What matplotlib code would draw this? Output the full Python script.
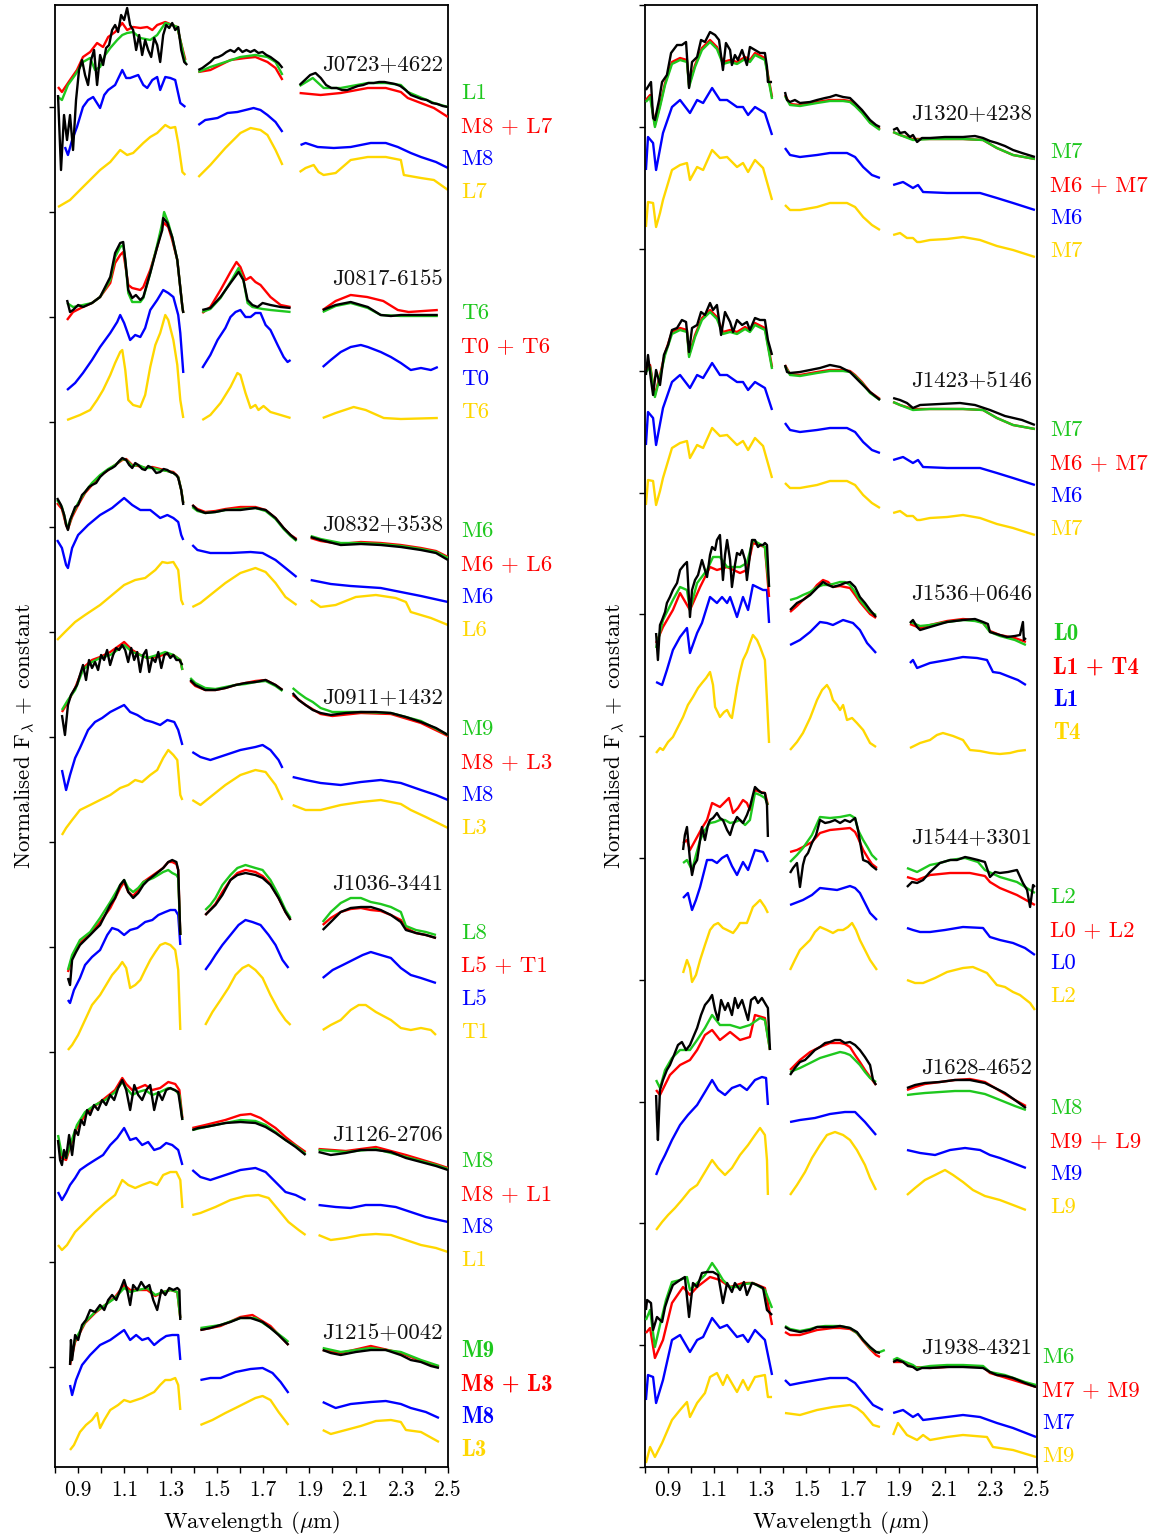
import numpy as np
import matplotlib
matplotlib.use("Agg")
import matplotlib.pyplot as plt
from matplotlib.transforms import blended_transform_factory

plt.rcParams.update({
    "font.family": "cmr10",
    "mathtext.fontset": "cm",
    "axes.formatter.use_mathtext": True,
    "axes.unicode_minus": False,
})

# Spectra: each object has a single-template fit (GRN), a binary fit (RED),
# the primary (BLU) and secondary (YEL) templates and the observed spectrum (OBS).
# Every entry holds the J, H and K segments. A segment is either a flat list of
# (wavelength [um], flux) pairs or a tuple (lambda_min, lambda_max, evenly sampled fluxes).
# Fluxes are normalised units x100.

# ---------------- J0723+4622 : L1 / M8 + L7 ----------------
J0723_GRN = [[0.813,13, 0.830,10, 0.856,25, 0.887,35, 0.921,48, 0.952,52, 0.973,40, 0.995,43, 1.017,55, 1.039,62, 1.069,70, 1.091,75, 1.112,77, 1.138,78, 1.169,72, 1.212,70, 1.242,75, 1.277,87, 1.307,85, 1.329,83, 1.342,70, 1.364,47],
             [1.42,38, 1.472,43, 1.537,48, 1.602,53, 1.667,55, 1.719,53, 1.754,48, 1.784,35],
             [1.858,24, 1.915,32, 1.962,22, 2.036,22, 2.153,27, 2.231,27, 2.296,25, 2.326,18, 2.439,7, 2.5,3]]
J0723_RED = [[0.813,23, 0.830,18, 0.865,30, 0.895,40, 0.921,53, 0.952,58, 0.982,67, 1.008,63, 1.030,73, 1.060,78, 1.091,87, 1.112,80, 1.138,83, 1.169,82, 1.199,83, 1.221,80, 1.242,85, 1.277,88, 1.307,85, 1.329,83, 1.342,70, 1.364,50],
             [1.42,38, 1.472,40, 1.559,50, 1.624,52, 1.667,53, 1.719,48, 1.754,42, 1.784,30],
             [1.858,17, 1.949,15, 2.036,17, 2.153,22, 2.231,22, 2.296,18, 2.326,12, 2.439,2, 2.5,-7]]
J0723_BLU = [[0.843,23, 0.856,15, 0.874,30, 0.895,43, 0.921,63, 0.943,70, 0.965,73, 0.995,62, 1.013,75, 1.030,80, 1.060,85, 1.091,100, 1.108,92, 1.125,92, 1.160,95, 1.182,85, 1.199,82, 1.221,90, 1.242,93, 1.255,80, 1.277,93, 1.299,92, 1.320,90, 1.342,67, 1.364,63],
             [1.42,45, 1.45,50, 1.503,52, 1.546,57, 1.589,58, 1.624,60, 1.659,62, 1.689,60, 1.719,55, 1.754,48, 1.784,38],
             [1.862,25, 1.884,27, 1.936,23, 2.006,22, 2.079,23, 2.166,27, 2.231,27, 2.283,23, 2.339,17, 2.383,13, 2.448,8, 2.5,2]]
J0723_YEL = [[0.813,3, 0.865,10, 0.921,23, 0.995,40, 1.039,48, 1.082,60, 1.112,55, 1.138,57, 1.182,67, 1.212,73, 1.242,77, 1.277,85, 1.299,82, 1.320,83, 1.333,67, 1.351,38, 1.364,35],
             [1.42,33, 1.472,45, 1.537,62, 1.602,77, 1.646,82, 1.689,80, 1.719,75, 1.754,60, 1.784,45],
             [1.858,38, 1.884,42, 1.919,45, 1.940,38, 1.962,35, 2.014,37, 2.079,50, 2.153,53, 2.231,53, 2.296,50, 2.309,35, 2.383,32, 2.439,30, 2.5,20]]
J0723_OBS = [(0.813, 1.372, [15,-60,-5,-30,-5,-40,10,40,50,35,25,50,60,25,55,45,62,65,80,85,78,95,90,102,85,80,60,75,55,70,60,53,72,65,48,75,85,82,87,80,83,60,48,45]),
             (1.42, 1.784, [40,42,45,48,52,53,55,58,60,58,62,58,60,58,60,57,58,55,53,50,47,42]),
             (1.858, 2.5, [25,30,35,37,32,25,22,22,20,20,22,24,25,27,27,28,28,27,26,24,20,15,13,11,10,7,6,4,3])]

# ---------------- J0817-6155 : T6 / T0 + T6 ----------------
J0817_GRN = [[0.852,12, 0.878,8, 0.921,10, 0.960,12, 0.995,18, 1.039,35, 1.060,58, 1.082,68, 1.095,70, 1.104,55, 1.117,22, 1.134,13, 1.169,13, 1.182,17, 1.212,42, 1.242,70, 1.264,92, 1.272,103, 1.290,92, 1.307,78, 1.329,55, 1.351,8, 1.355,2],
             [1.437,3, 1.472,6, 1.516,17, 1.559,33, 1.594,47, 1.615,35, 1.633,12, 1.654,8, 1.676,7, 1.698,6, 1.732,5, 1.776,4, 1.819,3],
             [1.958,3, 2.014,9, 2.079,12, 2.153,7, 2.209,0, 2.296,-1, 2.456,-1]]
J0817_RED = [[0.852,-5, 0.878,3, 0.921,8, 0.960,12, 0.995,18, 1.039,32, 1.060,52, 1.082,60, 1.095,63, 1.104,50, 1.117,30, 1.134,27, 1.169,25, 1.182,28, 1.212,45, 1.242,68, 1.264,88, 1.272,92, 1.290,88, 1.307,75, 1.329,55, 1.351,8, 1.355,2],
             [1.437,2, 1.472,8, 1.516,25, 1.559,43, 1.585,53, 1.602,48, 1.624,35, 1.646,38, 1.667,33, 1.689,30, 1.732,18, 1.776,10, 1.819,8],
             [1.958,5, 2.014,14, 2.079,20, 2.150,18, 2.220,14, 2.283,5, 2.330,3, 2.456,5]]
J0817_BLU = [[0.852,5, 0.887,12, 0.921,22, 0.960,35, 0.995,48, 1.039,62, 1.069,73, 1.082,80, 1.099,72, 1.125,55, 1.147,60, 1.169,58, 1.190,67, 1.212,85, 1.242,95, 1.268,105, 1.290,102, 1.312,98, 1.333,80, 1.342,62, 1.355,22],
             [1.437,27, 1.472,40, 1.503,55, 1.537,67, 1.559,78, 1.581,83, 1.602,85, 1.624,78, 1.646,78, 1.667,82, 1.689,82, 1.711,70, 1.732,65, 1.763,50, 1.789,38, 1.806,33, 1.819,35],
             [1.958,28, 1.993,35, 2.036,43, 2.079,48, 2.123,50, 2.153,48, 2.209,43, 2.253,38, 2.296,32, 2.339,25, 2.383,27, 2.426,25, 2.456,28]]
J0817_YEL = [[0.852,0, 0.908,5, 0.952,10, 0.982,20, 1.008,30, 1.039,45, 1.060,57, 1.082,68, 1.091,70, 1.104,50, 1.117,20, 1.138,15, 1.169,13, 1.190,25, 1.212,53, 1.234,75, 1.255,87, 1.277,105, 1.290,100, 1.312,80, 1.329,55, 1.342,20, 1.355,2],
             [1.437,0, 1.472,5, 1.516,17, 1.559,33, 1.589,47, 1.602,45, 1.624,27, 1.646,12, 1.667,15, 1.680,10, 1.702,14, 1.732,8, 1.776,5, 1.819,2],
             [1.958,2, 2.014,7, 2.092,13, 2.144,10, 2.222,2, 2.296,1, 2.456,2]]
J0817_OBS = [[0.852,15, 0.865,3, 0.878,5, 0.900,10, 0.921,8, 0.960,12, 0.995,18, 1.039,38, 1.060,62, 1.082,72, 1.095,73, 1.104,55, 1.117,25, 1.134,17, 1.150,20, 1.169,15, 1.182,18, 1.212,42, 1.242,68, 1.264,85, 1.268,97, 1.286,92, 1.307,78, 1.329,55, 1.351,8, 1.355,2],
             [1.437,5, 1.472,7, 1.516,18, 1.559,32, 1.594,43, 1.615,35, 1.633,15, 1.654,10, 1.676,8, 1.698,12, 1.732,10, 1.776,8, 1.819,7],
             [1.958,5, 2.014,10, 2.079,13, 2.153,8, 2.209,0, 2.253,-1, 2.296,0, 2.456,0]]

# ---------------- J0832+3538 : M6 / M6 + L6 ----------------
J0832_GRN = [[0.809,45, 0.830,38, 0.848,22, 0.856,17, 0.874,30, 0.900,42, 0.930,53, 0.960,62, 0.995,70, 1.030,76, 1.060,80, 1.091,86, 1.108,85, 1.134,79, 1.160,80, 1.190,77, 1.221,77, 1.255,75, 1.286,74, 1.312,72, 1.333,68, 1.346,55, 1.355,42],
             [1.394,38, 1.416,34, 1.450,32, 1.494,33, 1.537,35, 1.602,36, 1.667,37, 1.711,34, 1.754,26, 1.789,16, 1.819,9, 1.845,4],
             [1.906,9, 1.949,6, 2.036,2, 2.123,2, 2.209,1, 2.296,-1, 2.383,-4, 2.448,-7, 2.5,-13]]
J0832_RED = [[0.809,42, 0.830,36, 0.848,20, 0.856,16, 0.874,28, 0.900,40, 0.930,52, 0.960,60, 0.995,69, 1.030,75, 1.060,80, 1.091,85, 1.108,86, 1.134,80, 1.160,79, 1.190,77, 1.221,78, 1.255,76, 1.286,74, 1.312,73, 1.333,68, 1.346,55, 1.355,42],
             [1.394,40, 1.416,36, 1.450,33, 1.494,34, 1.537,36, 1.602,38, 1.667,38, 1.711,35, 1.754,27, 1.789,17, 1.819,10, 1.845,6],
             [1.906,7, 1.949,4, 2.036,1, 2.123,3, 2.209,2, 2.296,0, 2.383,-3, 2.448,-6, 2.5,-12]]
J0832_BLU = [[0.809,60, 0.830,52, 0.848,35, 0.856,32, 0.874,52, 0.900,65, 0.943,75, 0.995,85, 1.047,92, 1.099,102, 1.134,95, 1.169,90, 1.212,90, 1.255,82, 1.286,85, 1.312,82, 1.333,78, 1.346,65, 1.355,60],
             [1.394,55, 1.416,50, 1.472,47, 1.559,47, 1.646,48, 1.698,47, 1.754,40, 1.797,32, 1.845,23],
             [1.906,20, 1.993,16, 2.079,14, 2.209,12, 2.296,8, 2.383,4, 2.5,-2]]
J0832_YEL = [[0.809,0, 0.843,8, 0.887,18, 0.930,25, 0.995,35, 1.047,45, 1.099,55, 1.147,60, 1.190,62, 1.234,70, 1.264,78, 1.286,77, 1.312,78, 1.333,70, 1.346,40, 1.355,35],
             [1.394,33, 1.429,37, 1.472,45, 1.537,57, 1.602,67, 1.667,72, 1.711,68, 1.754,57, 1.797,43, 1.845,35],
             [1.906,40, 1.949,33, 2.014,35, 2.101,43, 2.188,45, 2.274,42, 2.318,38, 2.339,28, 2.426,22, 2.5,15]]
J0832_OBS = [[0.809,47, 0.826,40, 0.840,30, 0.848,20, 0.856,15, 0.865,25, 0.874,30, 0.887,38, 0.900,40, 0.917,50, 0.930,53, 0.947,58, 0.960,60, 0.978,62, 0.995,68, 1.013,72, 1.030,75, 1.047,77, 1.060,79, 1.078,84, 1.091,87, 1.108,85, 1.121,80, 1.134,77, 1.147,82, 1.160,80, 1.177,76, 1.190,75, 1.203,79, 1.221,77, 1.238,72, 1.255,73, 1.270,76, 1.286,75, 1.299,73, 1.312,72, 1.325,70, 1.333,67, 1.346,55, 1.355,40],
             [1.394,40, 1.416,35, 1.450,32, 1.494,33, 1.537,35, 1.602,35, 1.667,37, 1.711,35, 1.754,27, 1.789,17, 1.819,10, 1.845,5],
             [1.906,8, 1.949,5, 2.036,0, 2.123,1, 2.209,0, 2.296,-2, 2.383,-5, 2.448,-8, 2.5,-15]]

# ---------------- J0911+1432 : M9 / M8 + L3 ----------------
J0911_GRN = [[0.830,-20, 0.856,-10, 0.887,0, 0.921,20, 0.960,28, 0.995,32, 1.039,35, 1.082,42, 1.099,45, 1.134,38, 1.169,35, 1.199,32, 1.242,35, 1.277,38, 1.312,35, 1.342,30, 1.351,20],
             [1.385,12, 1.407,7, 1.450,2, 1.494,1, 1.537,3, 1.581,5, 1.624,6, 1.667,8, 1.711,9, 1.754,4, 1.784,-1],
             [1.828,2, 1.854,-3, 1.884,-8, 1.915,-12, 1.949,-18, 2.0,-22, 2.058,-22, 2.123,-22, 2.253,-23, 2.383,-31, 2.5,-45]]
J0911_RED = [[0.830,-22, 0.856,-12, 0.887,2, 0.921,22, 0.960,30, 0.995,33, 1.039,38, 1.082,45, 1.099,48, 1.134,40, 1.169,35, 1.199,32, 1.242,33, 1.277,36, 1.312,35, 1.342,30, 1.351,20],
             [1.385,9, 1.407,4, 1.450,0, 1.494,0, 1.537,2, 1.581,5, 1.624,7, 1.667,9, 1.711,10, 1.754,5, 1.784,0],
             [1.828,-5, 1.884,-15, 1.949,-24, 2.0,-26, 2.123,-23, 2.253,-24, 2.383,-33, 2.5,-46]]
J0911_BLU = [[0.830,20, 0.848,0, 0.865,15, 0.887,32, 0.908,42, 0.943,60, 0.973,68, 1.004,72, 1.039,78, 1.073,82, 1.099,85, 1.125,78, 1.156,75, 1.190,70, 1.221,68, 1.255,65, 1.286,70, 1.316,68, 1.333,60, 1.351,45],
             [1.394,38, 1.429,33, 1.472,30, 1.537,35, 1.602,40, 1.667,43, 1.698,45, 1.732,40, 1.767,30, 1.784,22],
             [1.828,13, 1.884,10, 1.949,7, 2.036,5, 2.123,8, 2.209,10, 2.296,7, 2.383,0, 2.448,-5, 2.5,-10]]
J0911_YEL = [[0.830,-5, 0.848,2, 0.874,10, 0.908,20, 0.952,25, 0.995,30, 1.039,35, 1.082,42, 1.117,45, 1.147,50, 1.177,48, 1.212,55, 1.242,60, 1.268,72, 1.290,80, 1.312,75, 1.329,70, 1.342,35, 1.351,30],
             [1.394,30, 1.429,25, 1.472,33, 1.537,45, 1.602,55, 1.667,60, 1.711,58, 1.754,45, 1.784,30],
             [1.828,25, 1.884,20, 1.949,20, 2.036,25, 2.123,28, 2.209,30, 2.296,26, 2.339,20, 2.404,13, 2.5,2]]
J0911_OBS = [(0.830, 1.351, [-25,-45,-15,-5,0,5,15,25,10,30,22,28,20,35,30,40,25,35,42,40,45,40,28,42,30,38,18,35,40,18,32,28,38,22,35,37,32,35,30,30,25]),
             [1.385,10, 1.407,5, 1.450,0, 1.494,0, 1.537,2, 1.581,5, 1.624,7, 1.667,8, 1.711,10, 1.754,5, 1.784,0],
             [1.828,-3, 1.854,-10, 1.884,-15, 1.915,-20, 1.949,-23, 1.993,-25, 2.058,-23, 2.123,-22, 2.188,-22, 2.253,-23, 2.318,-27, 2.383,-32, 2.448,-38, 2.5,-45]]

# ---------------- J1036-3441 : L8 / L5 + T1 ----------------
J1036_GRN = [[0.856,-30, 0.874,-15, 0.908,0, 0.952,8, 0.995,22, 1.039,38, 1.082,55, 1.099,60, 1.117,52, 1.138,48, 1.160,52, 1.182,58, 1.225,62, 1.268,68, 1.290,70, 1.307,67, 1.325,65, 1.333,62, 1.342,5],
             [1.45,30, 1.472,35, 1.494,42, 1.524,55, 1.559,65, 1.589,72, 1.624,75, 1.667,72, 1.698,70, 1.732,60, 1.767,45, 1.797,30, 1.819,22],
             [1.958,18, 1.993,28, 2.036,37, 2.079,42, 2.123,42, 2.166,38, 2.209,36, 2.253,33, 2.296,28, 2.318,14, 2.361,10, 2.404,8, 2.448,5]]
J1036_RED = [[0.856,-32, 0.874,-18, 0.908,-3, 0.952,6, 0.995,18, 1.039,32, 1.082,52, 1.099,58, 1.117,48, 1.138,44, 1.160,50, 1.182,58, 1.225,65, 1.268,72, 1.290,78, 1.307,78, 1.325,76, 1.333,70, 1.342,5],
             [1.45,25, 1.494,36, 1.524,48, 1.559,60, 1.589,67, 1.624,70, 1.667,68, 1.698,64, 1.732,56, 1.767,42, 1.797,28, 1.819,20],
             [1.958,15, 1.993,22, 2.036,28, 2.079,31, 2.123,32, 2.166,30, 2.209,29, 2.253,25, 2.296,20, 2.318,12, 2.361,7, 2.404,5, 2.448,2]]
J1036_BLU = [[0.856,-20, 0.865,-23, 0.882,-10, 0.908,2, 0.930,15, 0.960,23, 0.995,30, 1.026,45, 1.047,52, 1.073,50, 1.099,45, 1.125,50, 1.156,52, 1.190,58, 1.221,60, 1.247,65, 1.277,68, 1.299,70, 1.320,70, 1.333,65, 1.342,35],
             [1.45,10, 1.472,17, 1.494,25, 1.524,35, 1.559,45, 1.594,55, 1.624,60, 1.654,58, 1.689,55, 1.724,45, 1.754,35, 1.784,20, 1.810,12],
             [1.958,2, 2.001,10, 2.045,15, 2.088,20, 2.131,25, 2.166,28, 2.209,25, 2.253,22, 2.296,12, 2.339,5, 2.383,2, 2.448,-3]]
J1036_YEL = [[0.856,-10, 0.874,-5, 0.900,5, 0.930,20, 0.960,35, 0.995,45, 1.021,55, 1.047,65, 1.073,72, 1.091,78, 1.108,72, 1.125,52, 1.147,55, 1.169,60, 1.190,70, 1.212,80, 1.234,88, 1.255,95, 1.277,97, 1.299,95, 1.320,90, 1.333,70, 1.342,10],
             [1.45,15, 1.481,28, 1.516,40, 1.55,52, 1.581,65, 1.611,72, 1.637,75, 1.667,70, 1.698,62, 1.732,45, 1.767,30, 1.797,20, 1.819,15],
             [1.958,10, 1.993,15, 2.036,20, 2.079,30, 2.114,35, 2.144,35, 2.188,28, 2.253,20, 2.296,12, 2.339,10, 2.383,12, 2.426,10, 2.448,5]]
J1036_OBS = [[0.856,-38, 0.865,-45, 0.874,-20, 0.891,-12, 0.908,-5, 0.930,0, 0.952,5, 0.973,10, 0.995,15, 1.017,25, 1.039,35, 1.060,42, 1.082,55, 1.099,60, 1.117,48, 1.138,42, 1.160,47, 1.182,55, 1.203,60, 1.225,64, 1.247,68, 1.268,72, 1.290,78, 1.307,80, 1.325,78, 1.333,70, 1.342,5],
             [1.45,25, 1.472,30, 1.494,35, 1.524,45, 1.559,60, 1.589,65, 1.624,67, 1.667,65, 1.698,62, 1.732,55, 1.767,42, 1.797,28, 1.819,20],
             [1.958,10, 1.993,18, 2.036,28, 2.079,32, 2.123,33, 2.166,33, 2.209,30, 2.253,25, 2.296,18, 2.318,10, 2.361,7, 2.404,5, 2.448,2]]

# ---------------- J1126-2706 : M8 / M8 + L1 ----------------
J1126_GRN = [[0.813,15, 0.830,-5, 0.848,-8, 0.865,5, 0.895,25, 0.930,38, 0.973,45, 1.017,50, 1.060,58, 1.091,68, 1.108,62, 1.134,55, 1.160,58, 1.190,60, 1.221,55, 1.255,58, 1.290,62, 1.320,60, 1.338,55, 1.351,30],
             [1.394,20, 1.45,23, 1.537,27, 1.602,30, 1.667,29, 1.711,25, 1.754,18, 1.797,10, 1.841,4, 1.884,-4],
             [1.94,0, 2.058,-2, 2.188,1, 2.318,-7, 2.448,-15, 2.5,-19]]
J1126_RED = [[0.813,10, 0.830,-8, 0.848,-10, 0.865,3, 0.895,22, 0.930,35, 0.973,44, 1.017,52, 1.060,60, 1.091,72, 1.108,66, 1.134,60, 1.160,62, 1.190,65, 1.221,60, 1.255,62, 1.290,68, 1.320,66, 1.338,60, 1.351,32],
             [1.394,22, 1.45,25, 1.537,30, 1.602,35, 1.646,36, 1.689,32, 1.754,22, 1.797,13, 1.841,5, 1.884,-2],
             [1.94,1, 2.058,-1, 2.188,3, 2.318,-5, 2.448,-14, 2.5,-18]]
J1126_BLU = [[0.813,18, 0.830,10, 0.848,17, 0.865,25, 0.887,32, 0.908,40, 0.939,45, 0.973,50, 1.008,55, 1.039,65, 1.069,72, 1.099,82, 1.125,70, 1.151,72, 1.177,65, 1.203,68, 1.229,60, 1.255,62, 1.281,67, 1.307,65, 1.333,60, 1.351,45],
             [1.394,40, 1.429,33, 1.472,30, 1.537,35, 1.602,40, 1.667,42, 1.711,38, 1.754,28, 1.797,18, 1.841,15, 1.884,10],
             [1.94,5, 2.014,3, 2.079,2, 2.144,5, 2.209,5, 2.274,3, 2.339,-2, 2.404,-7, 2.5,-12]]
J1126_YEL = [[0.813,10, 0.830,5, 0.852,10, 0.887,23, 0.930,33, 0.973,43, 1.017,52, 1.06,60, 1.091,75, 1.117,70, 1.147,67, 1.177,70, 1.212,73, 1.242,70, 1.268,80, 1.299,83, 1.325,83, 1.342,75, 1.351,47],
             [1.394,40, 1.429,42, 1.494,48, 1.559,55, 1.624,59, 1.68,60, 1.724,57, 1.767,45, 1.81,33, 1.854,25, 1.884,20],
             [1.94,20, 1.993,15, 2.058,17, 2.123,20, 2.188,21, 2.253,20, 2.318,15, 2.383,10, 2.448,7, 2.5,3]]
J1126_OBS = [[0.813,10, 0.822,-10, 0.830,-15, 0.839,0, 0.848,-8, 0.861,15, 0.874,-5, 0.887,20, 0.900,15, 0.913,30, 0.926,25, 0.939,40, 0.952,35, 0.969,45, 0.986,40, 1.004,50, 1.021,45, 1.039,55, 1.056,50, 1.073,62, 1.091,70, 1.108,60, 1.125,40, 1.143,65, 1.160,55, 1.177,50, 1.195,60, 1.212,65, 1.229,40, 1.247,58, 1.264,50, 1.281,60, 1.299,62, 1.316,60, 1.333,58, 1.351,30],
             [1.394,20, 1.42,22, 1.45,23, 1.494,25, 1.537,27, 1.602,28, 1.667,27, 1.711,23, 1.754,17, 1.797,10, 1.841,3, 1.884,-5],
             [1.94,-2, 1.993,-5, 2.058,-3, 2.123,0, 2.188,0, 2.253,-2, 2.318,-8, 2.383,-12, 2.448,-16, 2.5,-20]]

# ---------------- J1215+0042 : M9 / M8 + L3 ----------------
J1215_GRN = [[0.865,-2, 0.887,20, 0.93,38, 0.973,48, 1.017,55, 1.06,62, 1.099,72, 1.125,68, 1.16,70, 1.199,72, 1.234,65, 1.268,68, 1.30,70, 1.329,68, 1.342,42],
             [1.429,32, 1.516,35, 1.602,42, 1.667,42, 1.732,32, 1.789,22, 1.81,18],
             [1.958,12, 2.036,8, 2.166,12, 2.296,8, 2.383,0, 2.461,-6]]
J1215_RED = [[0.865,-5, 0.887,18, 0.93,37, 0.973,47, 1.017,55, 1.06,63, 1.099,75, 1.125,70, 1.16,70, 1.199,70, 1.234,64, 1.268,68, 1.30,70, 1.329,68, 1.342,42],
             [1.429,30, 1.516,34, 1.602,43, 1.654,45, 1.732,34, 1.789,20, 1.81,15],
             [1.958,10, 2.036,7, 2.166,14, 2.296,7, 2.383,-1, 2.461,-7]]
J1215_BLU = [[0.865,15, 0.874,5, 0.891,20, 0.917,35, 0.952,45, 0.995,55, 1.039,60, 1.069,65, 1.099,70, 1.125,60, 1.151,65, 1.177,60, 1.203,62, 1.229,55, 1.255,60, 1.281,64, 1.307,65, 1.333,65, 1.342,40],
             [1.429,20, 1.472,22, 1.516,22, 1.581,28, 1.646,31, 1.698,32, 1.741,27, 1.776,18, 1.81,7],
             [1.958,-2, 2.014,-8, 2.079,-4, 2.166,-2, 2.231,-1, 2.296,-4, 2.339,-8, 2.404,-12, 2.461,-18]]
J1215_YEL = [[0.865,-10, 0.882,-5, 0.908,8, 0.934,15, 0.960,20, 0.982,27, 0.995,12, 1.013,20, 1.039,30, 1.073,35, 1.099,40, 1.125,38, 1.151,40, 1.177,42, 1.203,45, 1.229,48, 1.255,55, 1.277,60, 1.299,60, 1.320,62, 1.333,55, 1.342,30],
             [1.429,15, 1.481,20, 1.537,27, 1.581,32, 1.624,37, 1.667,42, 1.698,44, 1.732,40, 1.767,28, 1.81,15],
             [1.958,10, 1.993,6, 2.058,10, 2.123,14, 2.188,19, 2.253,20, 2.296,18, 2.318,10, 2.383,8, 2.461,-2]]
J1215_OBS = [[0.865,-5, 0.869,20, 0.874,0, 0.887,25, 0.900,20, 0.917,35, 0.934,40, 0.952,50, 0.973,48, 0.995,55, 1.013,50, 1.030,60, 1.047,65, 1.065,60, 1.082,70, 1.099,80, 1.112,70, 1.125,55, 1.138,75, 1.156,70, 1.173,78, 1.190,72, 1.208,75, 1.225,60, 1.242,50, 1.260,70, 1.277,65, 1.294,72, 1.312,70, 1.329,72, 1.338,70, 1.342,40],
             [1.429,30, 1.472,32, 1.516,35, 1.559,38, 1.602,42, 1.646,42, 1.698,38, 1.732,32, 1.767,25, 1.789,20, 1.81,15],
             [1.958,10, 1.993,7, 2.036,5, 2.101,8, 2.166,10, 2.231,10, 2.296,5, 2.339,0, 2.383,-2, 2.426,-6, 2.461,-8]]

# ---------------- J1320+4238 : M7 / M6 + M7 ----------------
J1320_GRN = [[0.804,28, 0.822,33, 0.843,3, 0.865,23, 0.887,45, 0.917,66, 0.952,70, 0.982,68, 0.991,43, 1.017,63, 1.047,80, 1.082,88, 1.112,81, 1.138,66, 1.169,68, 1.199,66, 1.234,71, 1.255,68, 1.277,75, 1.320,70, 1.351,31],
             [1.407,34, 1.429,25, 1.472,24, 1.546,27, 1.602,29, 1.659,29, 1.689,28, 1.711,24, 1.741,17, 1.776,7, 1.819,0],
             [1.876,-2, 1.906,-5, 1.962,-10, 2.036,-9, 2.179,-9, 2.266,-10, 2.326,-18, 2.396,-25, 2.491,-29]]
J1320_RED = [[0.804,30, 0.822,35, 0.843,5, 0.865,25, 0.887,47, 0.917,68, 0.952,72, 0.982,70, 0.991,45, 1.017,65, 1.047,82, 1.082,90, 1.112,83, 1.138,68, 1.169,70, 1.199,68, 1.234,73, 1.255,70, 1.277,77, 1.320,72, 1.351,33],
             [1.407,35, 1.429,26, 1.472,25, 1.546,28, 1.602,30, 1.659,30, 1.689,29, 1.711,25, 1.741,18, 1.776,8, 1.819,1],
             [1.876,-2, 1.906,-5, 1.962,-9, 2.036,-9, 2.179,-9, 2.266,-10, 2.326,-18, 2.396,-25, 2.491,-29]]
J1320_BLU = [[0.804,20, 0.813,53, 0.835,47, 0.848,20, 0.878,57, 0.917,83, 0.952,90, 0.995,77, 1.026,90, 1.052,87, 1.091,102, 1.125,90, 1.156,90, 1.199,83, 1.225,83, 1.247,75, 1.277,83, 1.320,77, 1.351,55],
             [1.407,42, 1.429,35, 1.472,33, 1.546,35, 1.602,37, 1.676,37, 1.711,33, 1.746,23, 1.784,15, 1.819,12],
             [1.876,5, 1.919,8, 1.962,2, 1.984,5, 2.006,-2, 2.110,-3, 2.179,-3, 2.253,-3, 2.326,-8, 2.396,-13, 2.491,-20]]
J1320_YEL = [[0.804,13, 0.813,38, 0.835,37, 0.848,13, 0.865,27, 0.878,40, 0.917,70, 0.952,75, 0.982,77, 0.995,60, 1.026,73, 1.052,70, 1.091,90, 1.125,82, 1.156,83, 1.199,73, 1.225,77, 1.247,68, 1.277,80, 1.312,72, 1.351,40],
             [1.407,35, 1.429,30, 1.472,30, 1.546,33, 1.602,37, 1.676,37, 1.711,33, 1.746,23, 1.784,15, 1.819,10],
             [1.876,5, 1.906,7, 1.936,2, 1.962,2, 1.980,-2, 1.993,-2, 2.036,0, 2.110,1, 2.179,3, 2.253,0, 2.326,-6, 2.396,-10, 2.491,-17]]
J1320_OBS = [[0.804,40, 0.826,48, 0.835,12, 0.843,10, 0.861,30, 0.874,48, 0.895,55, 0.913,77, 0.939,85, 0.960,85, 0.978,88, 0.991,42, 1.004,68, 1.026,73, 1.043,90, 1.060,88, 1.082,98, 1.104,95, 1.121,90, 1.138,60, 1.151,87, 1.169,80, 1.177,65, 1.190,75, 1.203,70, 1.221,80, 1.242,65, 1.255,83, 1.277,80, 1.299,77, 1.320,77, 1.329,63, 1.333,48, 1.351,48],
             [1.407,38, 1.416,30, 1.429,28, 1.450,30, 1.472,27, 1.516,28, 1.546,30, 1.581,32, 1.602,33, 1.628,35, 1.659,33, 1.689,32, 1.711,27, 1.741,20, 1.776,10, 1.802,5, 1.819,3],
             [1.876,0, 1.893,2, 1.906,-3, 1.927,-2, 1.949,-7, 1.962,-5, 1.980,-12, 2.001,-8, 2.036,-8, 2.101,-7, 2.179,-7, 2.231,-6, 2.266,-8, 2.296,-11, 2.326,-13, 2.361,-16, 2.396,-20, 2.435,-23, 2.491,-27]]

# ---------------- J1423+5146 : M7 / M6 + M7 (same templates as J1320+4238) ----------------
J1423_OBS = [[0.804,25, 0.813,45, 0.826,20, 0.835,5, 0.848,30, 0.865,15, 0.882,45, 0.900,55, 0.917,70, 0.939,72, 0.960,80, 0.978,78, 0.991,48, 1.004,72, 1.026,75, 1.043,88, 1.060,85, 1.082,97, 1.095,90, 1.112,95, 1.130,65, 1.147,88, 1.169,78, 1.182,68, 1.199,80, 1.221,75, 1.242,78, 1.255,70, 1.277,82, 1.299,80, 1.320,80, 1.333,60, 1.351,45],
             [1.407,35, 1.416,28, 1.429,27, 1.472,28, 1.516,30, 1.559,32, 1.602,35, 1.646,33, 1.689,28, 1.732,18, 1.776,8, 1.819,0],
             [1.876,2, 1.906,0, 1.936,-3, 1.962,-8, 1.993,-5, 2.079,-4, 2.166,-3, 2.231,-5, 2.296,-10, 2.361,-16, 2.435,-20, 2.491,-25]]

# ---------------- J1536+0646 : L0 / L1 + T4 ----------------
J1536_GRN = [[0.848,-28, 0.878,0, 0.921,20, 0.952,33, 0.982,30, 0.995,10, 1.026,37, 1.069,50, 1.095,63, 1.125,63, 1.156,53, 1.182,53, 1.212,53, 1.242,57, 1.268,80, 1.320,73, 1.338,33],
             [1.429,20, 1.459,22, 1.485,25, 1.516,28, 1.546,33, 1.572,35, 1.594,35, 1.615,36, 1.646,38, 1.667,38, 1.689,35, 1.711,28, 1.732,20, 1.754,14, 1.776,8, 1.802,5],
             [1.949,-2, 1.993,-6, 2.036,-5, 2.110,-2, 2.179,0, 2.231,-1, 2.266,-3, 2.296,-12, 2.339,-16, 2.404,-20, 2.452,-25]]
J1536_RED = [[0.848,-23, 0.878,-7, 0.921,10, 0.952,27, 0.995,10, 1.039,33, 1.082,53, 1.112,50, 1.156,53, 1.212,47, 1.242,50, 1.268,77, 1.320,73, 1.338,23],
             [1.429,8, 1.459,14, 1.485,20, 1.516,26, 1.546,35, 1.572,40, 1.594,38, 1.615,33, 1.646,34, 1.667,33, 1.689,32, 1.711,25, 1.732,18, 1.754,12, 1.776,6, 1.802,2],
             [1.949,-4, 1.993,-8, 2.036,-5, 2.110,-1, 2.179,1, 2.231,0, 2.266,-3, 2.296,-11, 2.339,-15, 2.404,-18, 2.452,-22]]
J1536_BLU = [[0.848,-2, 0.874,-5, 0.895,10, 0.921,30, 0.952,43, 0.982,52, 0.995,27, 1.026,47, 1.047,57, 1.082,83, 1.112,77, 1.134,83, 1.156,77, 1.169,83, 1.199,63, 1.225,83, 1.247,70, 1.268,95, 1.312,90, 1.329,90, 1.338,57],
             [1.429,35, 1.472,40, 1.516,48, 1.559,58, 1.589,57, 1.615,55, 1.659,60, 1.702,57, 1.732,50, 1.763,37, 1.802,27],
             [1.949,17, 1.962,20, 1.980,12, 2.036,17, 2.110,20, 2.179,23, 2.240,22, 2.283,20, 2.309,8, 2.339,7, 2.383,3, 2.417,0, 2.452,-5]]
J1536_YEL = [[0.848,-3, 0.865,2, 0.878,0, 0.900,8, 0.921,13, 0.943,23, 0.965,33, 0.986,45, 1.008,53, 1.030,62, 1.047,67, 1.065,72, 1.082,78, 1.095,65, 1.104,43, 1.117,37, 1.125,33, 1.143,38, 1.156,40, 1.169,34, 1.177,32, 1.190,50, 1.199,63, 1.212,78, 1.225,90, 1.242,98, 1.255,107, 1.268,115, 1.286,110, 1.299,103, 1.320,90, 1.329,50, 1.338,7],
             [1.429,0, 1.459,8, 1.485,17, 1.516,32, 1.546,50, 1.568,60, 1.589,65, 1.602,60, 1.615,50, 1.633,45, 1.646,40, 1.659,45, 1.676,30, 1.698,32, 1.719,27, 1.746,20, 1.776,7, 1.802,3],
             [1.949,2, 1.993,7, 2.036,10, 2.066,15, 2.092,17, 2.136,14, 2.179,10, 2.209,0, 2.253,-1, 2.296,-3, 2.339,-4, 2.383,-3, 2.417,-1, 2.452,0]]
J1536_OBS = [[0.848,-13, 0.856,-40, 0.865,-5, 0.874,0, 0.887,8, 0.895,17, 0.908,23, 0.921,30, 0.939,37, 0.952,50, 0.969,55, 0.982,58, 0.995,3, 1.004,30, 1.017,40, 1.030,45, 1.047,60, 1.060,50, 1.069,43, 1.082,65, 1.091,73, 1.104,70, 1.112,80, 1.125,85, 1.138,40, 1.147,65, 1.156,80, 1.169,60, 1.177,33, 1.190,55, 1.199,67, 1.212,65, 1.221,70, 1.234,60, 1.242,40, 1.255,65, 1.264,80, 1.277,80, 1.290,73, 1.299,75, 1.312,75, 1.320,77, 1.329,75, 1.338,33],
             [1.429,10, 1.459,17, 1.485,20, 1.516,25, 1.546,32, 1.572,38, 1.594,35, 1.615,33, 1.646,35, 1.667,37, 1.689,38, 1.711,33, 1.732,23, 1.754,17, 1.776,10, 1.802,3],
             [1.949,-3, 1.962,0, 1.980,-7, 1.993,-10, 2.036,-7, 2.110,-2, 2.179,0, 2.231,1, 2.266,-2, 2.287,-4, 2.296,-12, 2.339,-15, 2.370,-17, 2.404,-16, 2.426,-15, 2.439,-2, 2.443,-20, 2.452,-18]]

# ---------------- J1544+3301 : L2 / L0 + L2 ----------------
J1544_GRN = [[0.965,-3, 0.982,0, 1.004,-10, 1.021,5, 1.039,20, 1.060,30, 1.082,37, 1.104,38, 1.125,40, 1.147,40, 1.169,37, 1.190,38, 1.212,40, 1.234,35, 1.255,40, 1.277,67, 1.299,65, 1.320,62, 1.333,55],
             [1.429,-2, 1.459,5, 1.485,12, 1.524,25, 1.559,43, 1.602,42, 1.646,43, 1.689,45, 1.711,42, 1.724,30, 1.746,20, 1.767,12, 1.784,5, 1.806,0],
             [1.936,-8, 1.98,-12, 2.036,-5, 2.079,-3, 2.123,0, 2.188,2, 2.244,-2, 2.274,-10, 2.339,-17, 2.413,-22, 2.491,-33]]
J1544_RED = [[0.965,17, 0.982,20, 0.995,10, 1.026,23, 1.047,32, 1.069,40, 1.091,57, 1.108,55, 1.125,53, 1.164,62, 1.182,47, 1.203,52, 1.225,60, 1.242,57, 1.255,50, 1.277,70, 1.299,68, 1.320,67, 1.333,55],
             [1.429,8, 1.459,10, 1.485,13, 1.524,18, 1.559,27, 1.602,30, 1.646,31, 1.689,32, 1.711,28, 1.724,22, 1.746,10, 1.767,2, 1.784,-4, 1.806,-8],
             [1.936,-17, 1.98,-20, 2.036,-15, 2.123,-13, 2.209,-13, 2.274,-16, 2.296,-22, 2.339,-28, 2.413,-35, 2.491,-45]]
J1544_BLU = [[0.965,12, 0.986,17, 1.004,0, 1.021,10, 1.039,23, 1.069,50, 1.091,50, 1.112,47, 1.134,52, 1.156,55, 1.177,44, 1.199,35, 1.225,48, 1.247,40, 1.277,60, 1.312,58, 1.333,48],
             [1.429,5, 1.485,10, 1.524,15, 1.559,22, 1.633,20, 1.689,24, 1.711,22, 1.732,17, 1.754,7, 1.776,-3, 1.806,-10],
             [1.936,-18, 1.962,-20, 1.993,-22, 2.036,-22, 2.101,-20, 2.179,-17, 2.266,-18, 2.296,-27, 2.339,-30, 2.396,-33, 2.448,-38, 2.491,-45]]
J1544_YEL = [[0.965,12, 0.982,25, 0.995,17, 1.004,3, 1.021,10, 1.039,25, 1.060,40, 1.082,55, 1.099,60, 1.117,62, 1.138,57, 1.156,55, 1.182,52, 1.199,57, 1.212,62, 1.242,62, 1.268,78, 1.286,82, 1.299,85, 1.320,78, 1.333,72],
             [1.429,15, 1.45,25, 1.472,35, 1.494,40, 1.516,45, 1.537,53, 1.559,58, 1.589,55, 1.615,52, 1.637,55, 1.659,55, 1.680,58, 1.698,62, 1.715,55, 1.732,45, 1.754,35, 1.776,25, 1.806,15],
             [1.936,5, 1.971,2, 2.006,2, 2.058,7, 2.110,13, 2.144,15, 2.179,17, 2.222,18, 2.253,15, 2.283,12, 2.326,0, 2.361,-2, 2.396,-7, 2.426,-10, 2.470,-18, 2.491,-25]]
J1544_OBS = [[0.965,10, 0.973,25, 0.982,33, 0.991,10, 0.995,0, 1.004,-15, 1.013,-5, 1.026,0, 1.039,20, 1.047,33, 1.060,20, 1.073,35, 1.082,40, 1.095,42, 1.112,47, 1.125,42, 1.138,40, 1.156,30, 1.169,25, 1.182,35, 1.199,43, 1.212,40, 1.225,37, 1.242,45, 1.255,53, 1.268,65, 1.277,73, 1.290,70, 1.307,67, 1.320,67, 1.329,55, 1.333,23],
             [1.429,-13, 1.442,-8, 1.459,-3, 1.472,-27, 1.485,-5, 1.494,3, 1.507,7, 1.524,17, 1.542,25, 1.559,40, 1.581,37, 1.602,38, 1.624,40, 1.646,37, 1.667,40, 1.689,38, 1.711,42, 1.724,30, 1.746,0, 1.767,-2, 1.784,-6, 1.806,-10],
             [1.936,-27, 1.958,-22, 1.980,-23, 2.006,-20, 2.036,-12, 2.079,-3, 2.123,0, 2.153,0, 2.188,3, 2.209,2, 2.244,0, 2.274,-2, 2.296,-17, 2.318,-12, 2.339,-13, 2.374,-12, 2.413,-10, 2.439,-23, 2.457,-30, 2.470,-47, 2.483,-25, 2.491,-27]]

# ---------------- J1628-4652 : M8 / M9 + L9 ----------------
J1628_GRN = [[0.848,0, 0.865,-8, 0.887,10, 0.917,22, 0.952,30, 0.995,30, 1.026,40, 1.060,52, 1.091,65, 1.125,55, 1.169,55, 1.212,52, 1.255,55, 1.299,62, 1.320,60, 1.342,30],
             [1.429,8, 1.472,12, 1.516,17, 1.559,22, 1.602,25, 1.646,28, 1.667,27, 1.689,25, 1.711,20, 1.732,15, 1.754,8, 1.776,2, 1.802,-2],
             [1.936,-15, 1.971,-14, 2.014,-13, 2.079,-12, 2.144,-11, 2.209,-11, 2.274,-14, 2.318,-18, 2.361,-22, 2.404,-26, 2.452,-30]]
J1628_RED = [[0.848,-10, 0.865,-15, 0.908,5, 0.952,15, 0.995,20, 1.026,30, 1.060,45, 1.091,50, 1.125,40, 1.169,48, 1.212,40, 1.255,43, 1.277,65, 1.320,62, 1.342,30],
             [1.429,10, 1.472,20, 1.516,28, 1.559,33, 1.602,37, 1.646,37, 1.667,36, 1.689,33, 1.711,25, 1.732,18, 1.754,10, 1.776,3, 1.802,-5],
             [1.936,-10, 1.971,-7, 2.014,-4, 2.079,-2, 2.144,0, 2.209,1, 2.274,-2, 2.318,-8, 2.361,-14, 2.404,-20, 2.452,-26]]
J1628_BLU = [[0.848,-15, 0.865,-5, 0.887,5, 0.917,20, 0.952,35, 0.986,45, 1.026,55, 1.060,68, 1.091,80, 1.117,70, 1.147,65, 1.177,72, 1.212,75, 1.242,70, 1.277,80, 1.307,83, 1.325,82, 1.333,55],
             [1.429,38, 1.472,40, 1.537,42, 1.602,46, 1.667,48, 1.711,48, 1.754,38, 1.802,25],
             [1.936,10, 1.993,7, 2.058,5, 2.123,10, 2.188,12, 2.253,10, 2.296,5, 2.339,2, 2.396,-3, 2.452,-8]]
J1628_YEL = [[0.848,-10, 0.874,-2, 0.9,5, 0.930,12, 0.960,20, 0.995,30, 1.026,35, 1.060,48, 1.091,60, 1.117,52, 1.147,45, 1.177,52, 1.212,65, 1.247,75, 1.277,85, 1.299,92, 1.320,85, 1.329,60, 1.333,25],
             [1.429,25, 1.459,35, 1.494,48, 1.524,62, 1.559,75, 1.589,85, 1.624,88, 1.659,85, 1.689,80, 1.719,70, 1.754,55, 1.776,42, 1.802,30],
             [1.936,25, 1.971,32, 2.014,40, 2.058,45, 2.101,50, 2.136,45, 2.179,38, 2.222,30, 2.274,24, 2.339,20, 2.396,15, 2.452,10]]
J1628_OBS = [[0.848,-15, 0.852,-40, 0.856,-60, 0.865,-10, 0.878,0, 0.895,10, 0.908,15, 0.926,25, 0.943,35, 0.960,38, 0.978,30, 0.995,35, 1.013,45, 1.026,52, 1.043,65, 1.060,75, 1.078,80, 1.091,85, 1.104,70, 1.117,60, 1.130,80, 1.147,70, 1.160,77, 1.177,65, 1.190,82, 1.203,72, 1.221,80, 1.234,70, 1.247,60, 1.260,80, 1.277,83, 1.290,77, 1.307,82, 1.325,75, 1.333,72, 1.342,30],
             [1.429,5, 1.45,12, 1.472,18, 1.494,20, 1.516,25, 1.537,30, 1.559,33, 1.581,37, 1.602,38, 1.624,40, 1.646,40, 1.667,37, 1.689,38, 1.711,35, 1.732,30, 1.754,23, 1.776,15, 1.789,0, 1.802,-5],
             [1.936,-8, 1.971,-5, 2.014,-3, 2.079,-2, 2.144,0, 2.209,0, 2.274,-3, 2.318,-8, 2.361,-13, 2.404,-20, 2.452,-28]]

# ---------------- J1938-4321 : M6 / M7 + M9 ----------------
J1938_GRN = [[0.804,10, 0.822,20, 0.843,-17, 0.865,5, 0.891,30, 0.917,48, 0.952,50, 0.982,53, 0.995,40, 1.026,47, 1.060,55, 1.091,67, 1.112,60, 1.138,50, 1.169,43, 1.199,43, 1.234,46, 1.268,47, 1.299,43, 1.320,40, 1.351,22],
             [1.407,4, 1.429,1, 1.472,-1, 1.516,1, 1.546,3, 1.581,4, 1.615,4, 1.646,4, 1.689,2, 1.719,-3, 1.746,-10, 1.776,-18, 1.802,-22, 1.819,-22, 1.84,-20],
             [1.876,-30, 1.893,-28, 1.919,-31, 1.962,-35, 1.980,-38, 2.036,-36, 2.110,-35, 2.179,-35, 2.266,-36, 2.296,-42, 2.361,-45, 2.448,-52, 2.496,-55]]
J1938_RED = [[0.804,-3, 0.822,2, 0.843,-28, 0.878,-10, 0.917,27, 0.965,43, 0.995,35, 1.026,43, 1.082,53, 1.125,50, 1.169,43, 1.225,47, 1.268,47, 1.320,42, 1.351,5],
             [1.407,-2, 1.429,-5, 1.472,-5, 1.516,-2, 1.546,0, 1.581,1, 1.615,2, 1.646,2, 1.689,1, 1.719,-3, 1.746,-11, 1.776,-19, 1.802,-25, 1.819,-27],
             [1.876,-32, 1.919,-32, 1.962,-37, 2.036,-38, 2.179,-36, 2.266,-37, 2.296,-43, 2.396,-50, 2.496,-57]]
J1938_BLU = [[0.804,10, 0.813,35, 0.835,33, 0.848,7, 0.878,30, 0.917,70, 0.952,75, 0.995,58, 1.026,70, 1.052,73, 1.091,92, 1.125,82, 1.156,85, 1.199,73, 1.225,75, 1.247,68, 1.277,80, 1.320,70, 1.351,35],
             [1.407,30, 1.429,25, 1.472,27, 1.546,30, 1.602,32, 1.676,32, 1.711,27, 1.746,17, 1.789,5, 1.832,0],
             [1.876,-3, 1.919,0, 1.962,-7, 1.984,-4, 2.006,-10, 2.110,-7, 2.179,-5, 2.253,-7, 2.326,-13, 2.396,-18, 2.496,-27]]
J1938_YEL = [[0.804,-13, 0.822,3, 0.843,-7, 0.874,7, 0.917,30, 0.952,40, 0.982,48, 0.995,33, 1.026,47, 1.060,57, 1.082,73, 1.112,77, 1.138,65, 1.156,75, 1.199,58, 1.225,70, 1.247,60, 1.277,73, 1.320,75, 1.333,53, 1.351,53],
             [1.407,37, 1.472,35, 1.546,40, 1.615,43, 1.689,45, 1.719,42, 1.746,37, 1.789,25, 1.819,23],
             [1.876,15, 1.897,27, 1.936,15, 1.980,10, 2.006,15, 2.036,10, 2.110,13, 2.179,15, 2.283,13, 2.309,3, 2.396,0, 2.496,-7]]
J1938_OBS = [[0.804,20, 0.809,30, 0.826,27, 0.835,0, 0.852,13, 0.874,8, 0.887,23, 0.904,35, 0.921,45, 0.952,50, 0.973,53, 0.991,13, 1.008,47, 1.026,43, 1.047,57, 1.069,58, 1.095,58, 1.117,55, 1.138,27, 1.156,47, 1.177,38, 1.190,47, 1.212,40, 1.229,48, 1.242,35, 1.264,47, 1.286,45, 1.312,42, 1.329,20, 1.351,15],
             [1.407,3, 1.429,0, 1.472,-2, 1.516,0, 1.546,3, 1.581,3, 1.615,3, 1.646,4, 1.689,2, 1.719,-2, 1.746,-10, 1.776,-17, 1.802,-22, 1.819,-23],
             [1.876,-32, 1.893,-30, 1.919,-32, 1.940,-36, 1.962,-37, 1.980,-40, 2.001,-38, 2.036,-38, 2.110,-37, 2.179,-37, 2.266,-38, 2.296,-42, 2.326,-45, 2.361,-46, 2.396,-48, 2.448,-53, 2.496,-57]]

# ---------------- object list and classifications ----------------
LEFT_NAMES = ["J0723+4622", "J0817-6155", "J0832+3538", "J0911+1432", "J1036-3441", "J1126-2706", "J1215+0042"]
LEFT_SINGLE = ["L1", "T6", "M6", "M9", "L8", "M8", "M9"]
LEFT_PRIMARY = ["M8", "T0", "M6", "M8", "L5", "M8", "M8"]
LEFT_SECONDARY = ["L7", "T6", "L6", "L3", "T1", "L1", "L3"]
LEFT_SPECTRA = [
    (J0723_GRN, J0723_RED, J0723_BLU, J0723_YEL, J0723_OBS),
    (J0817_GRN, J0817_RED, J0817_BLU, J0817_YEL, J0817_OBS),
    (J0832_GRN, J0832_RED, J0832_BLU, J0832_YEL, J0832_OBS),
    (J0911_GRN, J0911_RED, J0911_BLU, J0911_YEL, J0911_OBS),
    (J1036_GRN, J1036_RED, J1036_BLU, J1036_YEL, J1036_OBS),
    (J1126_GRN, J1126_RED, J1126_BLU, J1126_YEL, J1126_OBS),
    (J1215_GRN, J1215_RED, J1215_BLU, J1215_YEL, J1215_OBS),
]

RIGHT_NAMES = ["J1320+4238", "J1423+5146", "J1536+0646", "J1544+3301", "J1628-4652", "J1938-4321"]
RIGHT_SINGLE = ["M7", "M7", "L0", "L2", "M8", "M6"]
RIGHT_PRIMARY = ["M6", "M6", "L1", "L0", "M9", "M7"]
RIGHT_SECONDARY = ["M7", "M7", "T4", "L2", "L9", "M9"]
RIGHT_SPECTRA = [
    (J1320_GRN, J1320_RED, J1320_BLU, J1320_YEL, J1320_OBS),
    (J1320_GRN, J1320_RED, J1320_BLU, J1320_YEL, J1423_OBS),
    (J1536_GRN, J1536_RED, J1536_BLU, J1536_YEL, J1536_OBS),
    (J1544_GRN, J1544_RED, J1544_BLU, J1544_YEL, J1544_OBS),
    (J1628_GRN, J1628_RED, J1628_BLU, J1628_YEL, J1628_OBS),
    (J1938_GRN, J1938_RED, J1938_BLU, J1938_YEL, J1938_OBS),
]

# ---------------- layout ----------------
# vertical constants (fit / primary / secondary), name height, first side-label height
LEFT_OFFSETS = [(13.57, 12.97, 12.57), (11.52, 10.72, 10.47), (9.22, 8.67, 8.27), (7.77, 6.77, 6.37),
                (5.27, 4.87, 4.27), (3.17, 2.57, 2.12), (1.07, 0.67, 0.27)]
LEFT_NAME_Y = [14.03, 11.88, 9.42, 7.70, 5.83, 3.32, 1.34]
LEFT_LABEL_Y = [13.74, 11.54, 9.36, 7.38, 5.34, 3.06, 1.16]
LEFT_LABEL_X = [1.033] * 7
LEFT_BOLD = [False, False, False, False, False, False, True]

RIGHT_OFFSETS = [(13.37, 12.77, 12.27), (10.67, 10.02, 9.49), (8.47, 7.87, 7.17), (6.07, 5.57, 4.82),
                 (3.87, 3.07, 2.47), (1.37, 0.57, 0.17)]
RIGHT_NAME_Y = [13.54, 10.86, 8.73, 6.29, 3.99, 1.19]
RIGHT_LABEL_Y = [13.15, 10.37, 8.33, 5.70, 3.59, 1.10]
RIGHT_LABEL_X = [1.033, 1.033, 1.041, 1.033, 1.033, 1.013]
RIGHT_BOLD = [False, False, True, False, False, False]

GREEN, RED, BLUE, GOLD = "#1ec81e", "#ff0000", "#0000ff", "#ffd700"
LW = 1.7
FS = 16.5
LABEL_STEP = 0.33


def band_xy(band):
    if isinstance(band, tuple):
        lo, hi, vals = band
        lam = np.linspace(lo, hi, len(vals))
        flux = np.asarray(vals, float)
    else:
        arr = np.asarray(band, float).reshape(-1, 2)
        lam, flux = arr[:, 0], arr[:, 1]
    return lam, flux / 100.0


def draw_panel(ax, names, single, primary, secondary, spectra, offsets,
               name_y, label_y, label_x, bold, yticks):
    trans = blended_transform_factory(ax.transAxes, ax.transData)
    for i, name in enumerate(names):
        grn, red, blu, yel, obs = spectra[i]
        off_fit, off_pri, off_sec = offsets[i]
        layers = ((blu, off_pri, BLUE, 2), (yel, off_sec, GOLD, 2),
                  (red, off_fit, RED, 3), (grn, off_fit, GREEN, 4), (obs, off_fit, "black", 5))
        for spec, off, col, z in layers:
            for band in spec:
                lam, flux = band_xy(band)
                ax.plot(lam, off + flux, color=col, lw=LW, zorder=z,
                        solid_joinstyle="round", solid_capstyle="butt")
        ax.text(0.987, name_y[i], name, transform=trans, ha="right", va="center",
                fontsize=FS, color="#111111", zorder=6)
        fam = "cmb10" if bold[i] else "cmr10"
        texts = [(single[i], GREEN), (f"{primary[i]} + {secondary[i]}", RED),
                 (primary[i], BLUE), (secondary[i], GOLD)]
        for k, (txt, col) in enumerate(texts):
            ax.text(label_x[i], label_y[i] - k * LABEL_STEP, txt, transform=trans,
                    ha="left", va="center", fontsize=FS, color=col, family=fam,
                    clip_on=False)

    ax.set_xlim(0.8, 2.5)
    ax.set_ylim(0, 14.62)
    xt = np.round(np.arange(0.8, 2.501, 0.1), 1)
    ax.set_xticks(xt)
    ax.set_xticklabels([f"{v:.1f}" if round(v * 10) % 2 == 1 else "" for v in xt])
    ax.set_yticks(yticks)
    ax.set_yticklabels([])
    ax.tick_params(axis="both", direction="out", length=4, width=1.0,
                   top=False, right=False, labelsize=15.5, pad=6)
    for sp in ax.spines.values():
        sp.set_linewidth(1.3)
    ax.set_xlabel(r"Wavelength ($\mu$m)", fontsize=FS, labelpad=6)
    ax.set_ylabel(r"Normalised F$_\lambda$ + constant", fontsize=FS, labelpad=3)


W, H = 1161, 1537
fig = plt.figure(figsize=(W / 100, H / 100), dpi=100)
ax_l = fig.add_axes([55 / W, 70 / H, 393 / W, 1462 / H])
ax_r = fig.add_axes([645 / W, 70 / H, 392 / W, 1462 / H])

left_ticks = [1.0 + 1.05 * k for k in range(13)]
right_ticks = [1.218 * k for k in range(13)]

draw_panel(ax_l, LEFT_NAMES, LEFT_SINGLE, LEFT_PRIMARY, LEFT_SECONDARY, LEFT_SPECTRA,
           LEFT_OFFSETS, LEFT_NAME_Y, LEFT_LABEL_Y, LEFT_LABEL_X, LEFT_BOLD, left_ticks)
draw_panel(ax_r, RIGHT_NAMES, RIGHT_SINGLE, RIGHT_PRIMARY, RIGHT_SECONDARY, RIGHT_SPECTRA,
           RIGHT_OFFSETS, RIGHT_NAME_Y, RIGHT_LABEL_Y, RIGHT_LABEL_X, RIGHT_BOLD, right_ticks)

fig.savefig("out.png", dpi=100)
